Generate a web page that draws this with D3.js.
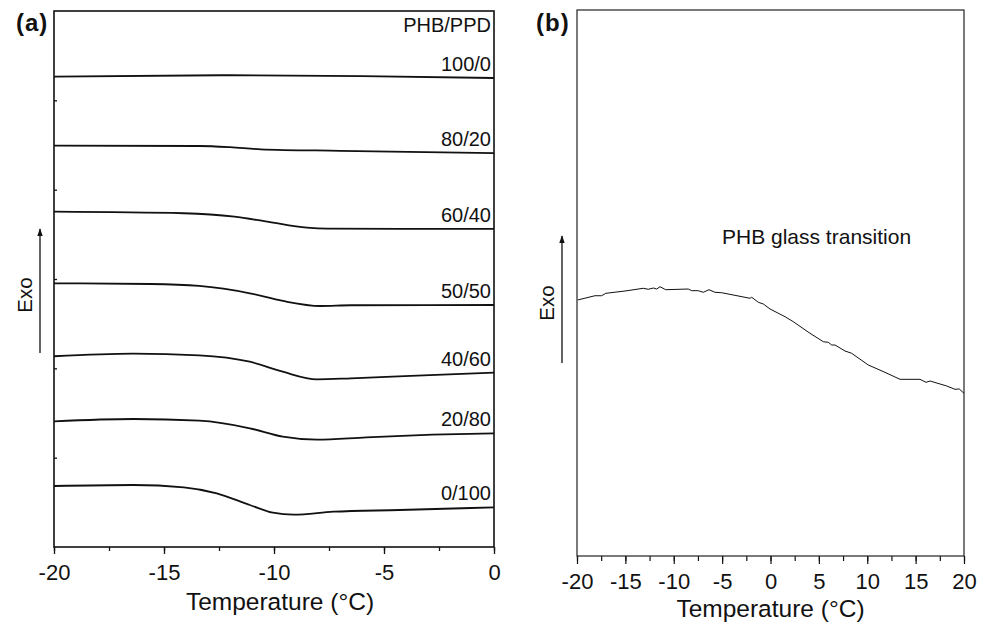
<!DOCTYPE html>
<html>
<head>
<meta charset="utf-8">
<script src="https://cdn.jsdelivr.net/npm/d3@7"></script>
<style>
  html, body { margin: 0; padding: 0; background: #fff; }
  svg { display: block; }
  text { font-family: "Liberation Sans", Arial, Helvetica, sans-serif; fill: #111; }
</style>
</head>
<body>
<svg id="chart" width="989" height="623"></svg>
<script>
// ---------------- DATA ----------------
// Panel (a): DSC curves of PHB/PPD blends, temperature (°C) vs heat flow (arbitrary, offset)
const seriesNames = ["100/0", "80/20", "60/40", "50/50", "40/60", "20/80", "0/100"];
const s100_0 = [[-20, 5.265], [-12, 5.281], [-6, 5.272], [0, 5.25]];
const s80_20 = [[-20, 4.492], [-13.4, 4.489], [-12, 4.476], [-10.6, 4.452], [-7, 4.435], [0, 4.41]];
const s60_40 = [[-20, 3.754], [-14.1, 3.736], [-11.8, 3.698], [-10.3, 3.642], [-8.5, 3.574], [-7.6, 3.563], [0, 3.56]];
const s50_50 = [[-20, 2.952], [-15.6, 2.944], [-13.4, 2.922], [-11.1, 2.84], [-9.6, 2.754], [-7.9, 2.698], [-6.5, 2.706], [0, 2.709]];
const s40_60 = [[-20, 2.135], [-16.4, 2.164], [-13.4, 2.146], [-11.1, 2.074], [-9.6, 1.962], [-8.05, 1.877], [-6.5, 1.888], [-3.5, 1.918], [0, 1.951]];
const s20_80 = [[-20, 1.407], [-16.4, 1.433], [-13.4, 1.414], [-11.1, 1.329], [-9.6, 1.235], [-8.05, 1.201], [-5.8, 1.228], [-2.8, 1.257], [0, 1.273]];
const s0_100 = [[-20, 0.683], [-16.4, 0.694], [-14.1, 0.668], [-12.6, 0.601], [-11.1, 0.47], [-10.05, 0.384], [-9.1, 0.362], [-7.3, 0.395], [-4.3, 0.414], [0, 0.444]];
const seriesA = [s100_0, s80_20, s60_40, s50_50, s40_60, s20_80, s0_100];
const ticksA = [-20, -15, -10, -5, 0];
const yTicksA = [1, 2, 3, 4, 5];

// Panel (b): PHB glass transition
const tempB = [-19.93, -18.14, -17.45, -17.03, -15.04, -13.15, -12.63, -12.11, -11.76, -11.42, -10.83, -8.5, -8.14, -7.46, -6.95, -6.36, -5.74, -5.04, -2.12, -1.94, -1.26, -0.74, -0.05, 1.5, 2.36, 4.08, 5.46, 5.97, 6.33, 6.67, 7.7, 8.39, 10.11, 11.83, 13.39, 15.45, 16.07, 16.49, 18.21, 19.07, 19.51, 20.0];
const heatB = [46.89, 47.67, 47.67, 48.11, 48.53, 49.03, 48.85, 49.08, 48.9, 49.32, 48.77, 48.9, 48.59, 48.59, 48.3, 48.77, 48.3, 48.22, 47.2, 47.38, 46.47, 46.15, 45.24, 43.83, 42.91, 40.79, 39.25, 39.14, 38.64, 38.64, 37.55, 37.12, 34.98, 33.64, 32.36, 32.36, 31.81, 32.05, 31.14, 30.53, 30.59, 29.8];
const ticksB = [-20, -15, -10, -5, 0, 5, 10, 15, 20];

// ---------------- DRAW ----------------
const svg = d3.select("#chart");
const black = "#111";
const fmt = d => String(d); // plain hyphen-minus like the reference

svg.append("defs").append("marker")
  .attr("id", "arrow").attr("viewBox", "0 0 10 10")
  .attr("refX", 9).attr("refY", 5)
  .attr("markerWidth", 6).attr("markerHeight", 6)
  .attr("orient", "auto-start-reverse")
  .append("path").attr("d", "M0,1.5 L10,5 L0,8.5 Z").attr("fill", black);

function minorTicks(lo, hi, step) {
  const out = [];
  for (let v = lo; v <= hi + 1e-9; v += step) out.push(+v.toFixed(4));
  return out;
}

// ===== Panel (a) =====
const xA = d3.scaleLinear().domain([-20, 0]).range([54, 494]);
const yA = d3.scaleLinear().domain([0, 6]).range([547, 11]);
const gA = svg.append("g");

gA.append("g").attr("transform", `translate(0,${yA(0)})`)
  .call(d3.axisBottom(xA).tickValues(minorTicks(-20, 0, 2.5)).tickSize(4).tickFormat(""))
  .call(g => g.select(".domain").remove())
  .call(g => g.selectAll("line").attr("stroke", black).attr("stroke-width", 1.3));
gA.append("g").attr("transform", `translate(0,${yA(0)})`)
  .call(d3.axisBottom(xA).tickValues(ticksA).tickSize(7).tickPadding(10).tickFormat(fmt))
  .call(g => g.select(".domain").remove())
  .call(g => g.selectAll("line").attr("stroke", black).attr("stroke-width", 1.3))
  .call(g => g.selectAll("text").attr("font-size", 22).attr("fill", black)
      .attr("font-family", "Liberation Sans, Arial, sans-serif"));
gA.append("g").attr("transform", `translate(${xA(-20)},0)`)
  .call(d3.axisRight(yA).tickValues(yTicksA).tickSize(3).tickFormat(""))
  .call(g => g.select(".domain").remove())
  .call(g => g.selectAll("line").attr("stroke", black).attr("stroke-width", 1.3));

gA.append("rect")
  .attr("x", xA(-20)).attr("y", yA(6))
  .attr("width", xA(0) - xA(-20)).attr("height", yA(0) - yA(6))
  .attr("fill", "none").attr("stroke", black).attr("stroke-width", 1.6);

const lineA = d3.line().x(d => xA(d[0])).y(d => yA(d[1])).curve(d3.curveMonotoneX);
gA.selectAll("path.curve").data(seriesA).join("path")
  .attr("class", "curve")
  .attr("d", lineA)
  .attr("fill", "none").attr("stroke", black).attr("stroke-width", 1.8);

gA.selectAll("text.slabel").data(seriesA).join("text")
  .attr("class", "slabel")
  .attr("x", xA(0) - 3)
  .attr("y", d => yA(d[d.length - 1][1]) - 7)
  .attr("text-anchor", "end").attr("font-size", 20)
  .text((d, i) => seriesNames[i]);

gA.append("text").attr("x", xA(0) - 3).attr("y", 32)
  .attr("text-anchor", "end").attr("font-size", 20).text("PHB/PPD");

gA.append("text").attr("x", 280).attr("y", 610)
  .attr("text-anchor", "middle").attr("font-size", 24.5).text("Temperature (°C)");

gA.append("text").attr("transform", "translate(24,295) rotate(-90)")
  .attr("text-anchor", "middle").attr("dominant-baseline", "central")
  .attr("font-size", 20.5).text("Exo");
gA.append("line").attr("x1", 40).attr("x2", 40).attr("y1", 353).attr("y2", 229)
  .attr("stroke", black).attr("stroke-width", 1.3).attr("marker-end", "url(#arrow)");

gA.append("text").attr("x", 16).attr("y", 31)
  .attr("font-family", "Liberation Serif, Times New Roman, serif")
  .attr("font-weight", "bold").attr("font-size", 24).attr("letter-spacing", 1)
  .text("(a)");

// ===== Panel (b) =====
const xB = d3.scaleLinear().domain([-20, 20]).range([577, 964]);
const yB = d3.scaleLinear().domain([0, 100]).range([556, 10]);
const gB = svg.append("g");

gB.append("g").attr("transform", `translate(0,${yB(0)})`)
  .call(d3.axisBottom(xB).tickValues(minorTicks(-20, 20, 2.5)).tickSize(5).tickFormat(""))
  .call(g => g.select(".domain").remove())
  .call(g => g.selectAll("line").attr("stroke", black).attr("stroke-width", 1.2));
gB.append("g").attr("transform", `translate(0,${yB(0)})`)
  .call(d3.axisBottom(xB).tickValues(ticksB).tickSize(8).tickPadding(9).tickFormat(fmt))
  .call(g => g.select(".domain").remove())
  .call(g => g.selectAll("line").attr("stroke", black).attr("stroke-width", 1.2))
  .call(g => g.selectAll("text").attr("font-size", 22).attr("fill", black)
      .attr("font-family", "Liberation Sans, Arial, sans-serif"));

gB.append("rect")
  .attr("x", xB(-20)).attr("y", yB(100))
  .attr("width", xB(20) - xB(-20)).attr("height", yB(0) - yB(100))
  .attr("fill", "none").attr("stroke", "#222").attr("stroke-width", 1.2);

const dataB = tempB.map((t, i) => [t, heatB[i]]);
gB.append("path").datum(dataB)
  .attr("d", d3.line().x(d => xB(d[0])).y(d => yB(d[1])))
  .attr("fill", "none").attr("stroke", black).attr("stroke-width", 1);

gB.append("text").attr("x", 722).attr("y", 244)
  .attr("font-size", 21).text("PHB glass transition");

gB.append("text").attr("x", 770.5).attr("y", 617)
  .attr("text-anchor", "middle").attr("font-size", 24.5).text("Temperature (°C)");

gB.append("text").attr("transform", "translate(546,303) rotate(-90)")
  .attr("text-anchor", "middle").attr("dominant-baseline", "central")
  .attr("font-size", 20.5).text("Exo");
gB.append("line").attr("x1", 562).attr("x2", 562).attr("y1", 363).attr("y2", 236)
  .attr("stroke", black).attr("stroke-width", 1.3).attr("marker-end", "url(#arrow)");

gB.append("text").attr("x", 536).attr("y", 31)
  .attr("font-family", "Liberation Serif, Times New Roman, serif")
  .attr("font-weight", "bold").attr("font-size", 24).attr("letter-spacing", 1)
  .text("(b)");
</script>
</body>
</html>
